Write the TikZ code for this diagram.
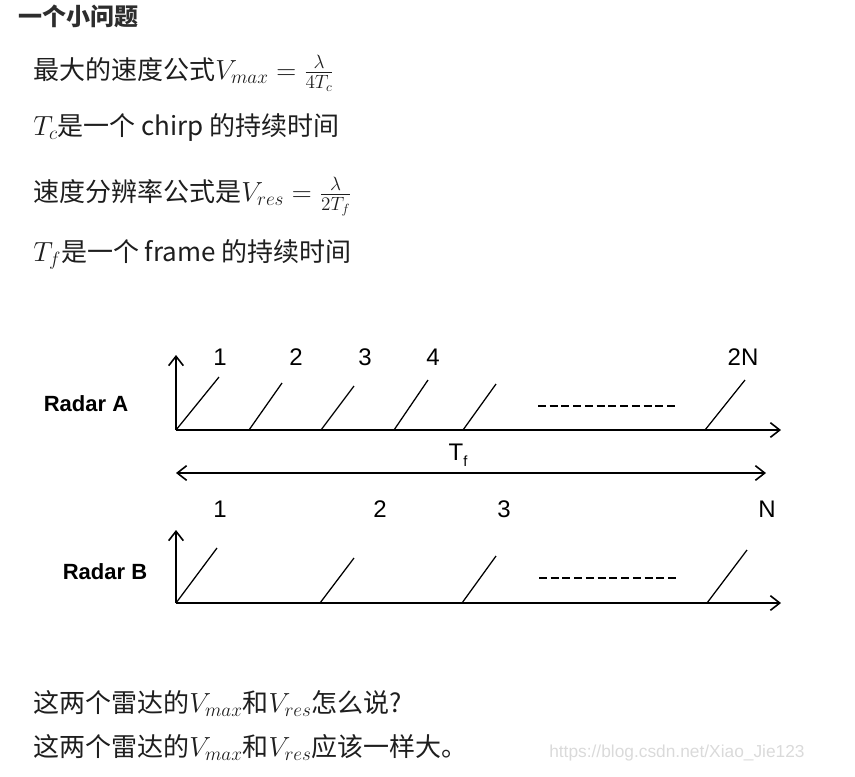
\documentclass[tikz,border=0pt]{standalone}
\usepackage{fontspec}
\setmainfont{Noto Sans CJK SC}
\newfontfamily\arialfont{Liberation Sans}
\usepackage{xcolor}
\usetikzlibrary{arrows.meta}

\definecolor{titlegray}{RGB}{45,45,45}
\definecolor{bodyblack}{RGB}{30,30,30}
\definecolor{marklight}{RGB}{218,218,218}

\begin{document}
\begin{tikzpicture}[x=0.75pt,y=0.75pt,yscale=-1,xscale=1,
  body/.style={anchor=base west,inner sep=0pt,text=bodyblack,font=\fontsize{19.5}{24}\selectfont},
  axis/.style={line width=1.2pt,-{Straight Barb[length=7pt,width=11pt]}},
  chirp/.style={line width=0.95pt},
  dots/.style={line width=1.6pt,dash pattern=on 6pt off 2.8pt},
  num/.style={inner sep=0pt,font=\arialfont\fontsize{18}{20}\selectfont},
  radar/.style={inner sep=0pt,font=\arialfont\bfseries\fontsize{16.5}{20}\selectfont}
]
\path[use as bounding box] (0,0) rectangle (855,776);

% Text Node
\node (title) [anchor=base west,inner sep=0pt,text=titlegray,font=\bfseries\fontsize{18}{22}\selectfont] at (18,25) {一个小问题};
% Text Node
\node (vmax) [body] at (33,79) {最大的速度公式$V_{max}=\frac{\lambda}{4T_c}$};
% Text Node
\node (tc) [body] at (33,135) {$T_c$是一个 chirp 的持续时间};
% Text Node
\node (vres) [body] at (33,201) {速度分辨率公式是$V_{res}=\frac{\lambda}{2T_f}$};
% Text Node
\node (tf) [body] at (33,261) {$T_f$是一个 frame 的持续时间};

%Radar A axes
\coordinate (oA) at (176,430);
\coordinate (yA) at (176,355);
\coordinate (xA) at (781,430);
\draw[axis] (oA) -- (yA);
\draw[axis] (oA) -- (xA);
%Radar A chirps
\foreach \bx/\tx/\ty in {176/219/377,249/282/383,321/354/386,394/428/380,463/496/384,705/745/380}
  \draw[chirp] (\bx,430) -- (\tx,\ty);
\draw[dots] (538,406) -- (678,406);

% Text Node
\node (radarA) [radar] at (86,404) {Radar A};
\node (a1) [num] at (220,357) {1};
\node (a2) [num] at (296,357) {2};
\node (a3) [num] at (365,357) {3};
\node (a4) [num] at (433,357) {4};
\node (a2n) [num] at (743,357) {2N};

%Frame length
\coordinate (fL) at (176,473);
\coordinate (fR) at (766,473);
\draw[line width=1.2pt,{Straight Barb[length=7pt,width=11pt]}-{Straight Barb[length=7pt,width=11pt]}] (fL) -- (fR);
\node (tfA) [num] at (458,455) {T\raisebox{-0.5ex}{\fontsize{11}{12}\selectfont f}};

%Radar B axes
\coordinate (oB) at (176,603);
\coordinate (yB) at (176,530);
\coordinate (xB) at (781,603);
\draw[axis] (oB) -- (yB);
\draw[axis] (oB) -- (xB);
%Radar B chirps
\foreach \bx/\tx/\ty in {176/217/548,320/354/558,462/496/556,707/747/550}
  \draw[chirp] (\bx,603) -- (\tx,\ty);
\draw[dots] (539,578) -- (679,578);

% Text Node
\node (radarB) [radar] at (105,572) {Radar B};
\node (b1) [num] at (220,509) {1};
\node (b2) [num] at (380,509) {2};
\node (b3) [num] at (504,509) {3};
\node (bn) [num] at (767,509) {N};

% Text Node
\node (q1) [body] at (33,712) {这两个雷达的$V_{max}$和$V_{res}$怎么说?};
% Text Node
\node (q2) [body] at (33,756) {这两个雷达的$V_{max}$和$V_{res}$应该一样大。};
% Text Node
\node (mark) [anchor=west,inner sep=0pt,text=marklight,font=\arialfont\fontsize{13}{15}\selectfont] at (549,753) {https://blog.csdn.net/Xiao\_Jie123};

\end{tikzpicture}
\end{document}
